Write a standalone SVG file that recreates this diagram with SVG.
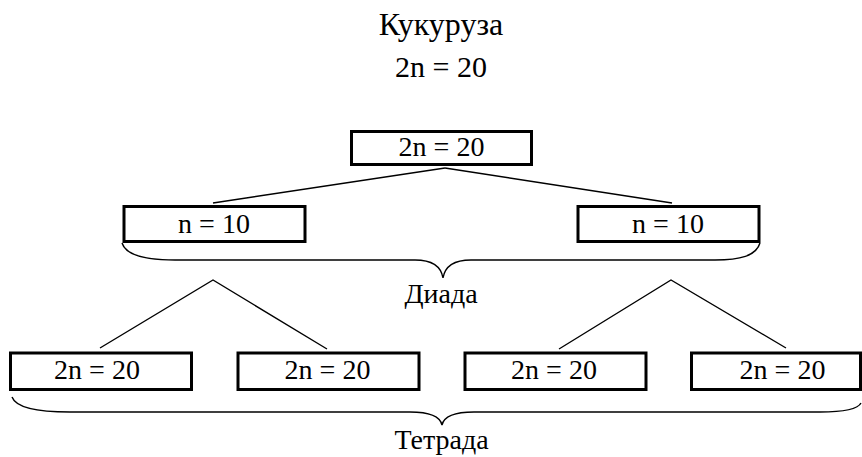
<svg xmlns="http://www.w3.org/2000/svg" width="862" height="457" viewBox="0 0 862 457">
<rect width="862" height="457" fill="#fff"/>
<g id="title">
<text x="441" y="35" font-family="Liberation Serif" font-size="32" text-anchor="middle">Кукуруза</text>
<text x="441" y="77" font-family="Liberation Serif" font-size="30" text-anchor="middle">2n = 20</text>
</g>
<g id="connectors" stroke="#000" stroke-width="1.4" fill="none">
<line x1="445" y1="168" x2="213" y2="203"/>
<line x1="445" y1="168" x2="672" y2="203"/>
<polyline points="100,348 213,280 327,349"/>
<polyline points="559,349 671,280 786,348"/>
<path d="M122,243 C126,256 150,260 175,260 L415,260 C432,260 441,266 443,278 C445,266 454,260 471,260 L715,260 C740,260 756,256 760,243"/>
<path d="M12,397 C16,408 40,412 70,412 L410,412 C430,412 440,416 442,425 C444,416 454,412 474,412 L820,412 C845,412 858,409 861,403"/>
</g>
<g id="n_root">
<rect x="351.5" y="131.5" width="180" height="33" fill="#fff" stroke="#000" stroke-width="3"/>
<text x="441.5" y="156" font-family="Liberation Serif" font-size="28" text-anchor="middle">2n = 20</text>
</g>
<g id="n_d1">
<rect x="124" y="206.5" width="181" height="35" fill="#fff" stroke="#000" stroke-width="3"/>
<text x="214" y="232.5" font-family="Liberation Serif" font-size="28" text-anchor="middle">n = 10</text>
</g>
<g id="n_d2">
<rect x="578" y="206.5" width="181" height="35" fill="#fff" stroke="#000" stroke-width="3"/>
<text x="668" y="232.5" font-family="Liberation Serif" font-size="28" text-anchor="middle">n = 10</text>
</g>
<g id="diada"><text x="441" y="303" font-family="Liberation Serif" font-size="28" text-anchor="middle">Диада</text></g>
<g id="n_t1">
<rect x="10.5" y="353" width="181" height="36.5" fill="#fff" stroke="#000" stroke-width="3"/>
<text x="97" y="378.5" font-family="Liberation Serif" font-size="28" text-anchor="middle">2n = 20</text>
</g>
<g id="n_t2">
<rect x="238" y="353" width="181" height="36.5" fill="#fff" stroke="#000" stroke-width="3"/>
<text x="327.5" y="378.5" font-family="Liberation Serif" font-size="28" text-anchor="middle">2n = 20</text>
</g>
<g id="n_t3">
<rect x="465" y="353" width="181" height="36.5" fill="#fff" stroke="#000" stroke-width="3"/>
<text x="554" y="378.5" font-family="Liberation Serif" font-size="28" text-anchor="middle">2n = 20</text>
</g>
<g id="n_t4">
<rect x="691.5" y="353" width="169" height="36.5" fill="#fff" stroke="#000" stroke-width="3"/>
<text x="782.5" y="378.5" font-family="Liberation Serif" font-size="28" text-anchor="middle">2n = 20</text>
</g>
<g id="tetrada"><text x="441.5" y="449" font-family="Liberation Serif" font-size="28" text-anchor="middle">Тетрада</text></g>
</svg>
